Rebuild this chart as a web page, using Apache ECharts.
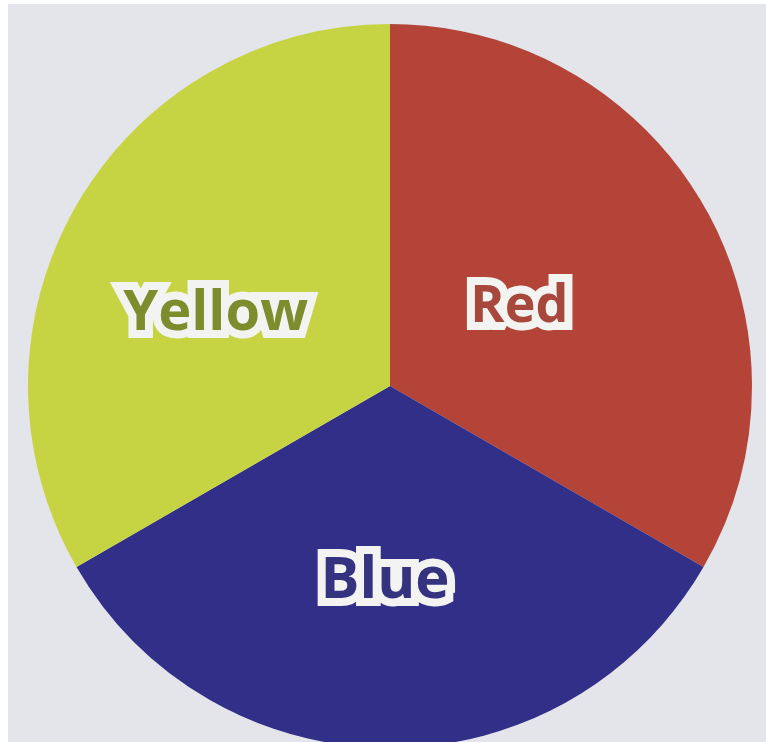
<!DOCTYPE html>
<html>
<head>
<meta charset="utf-8">
<script src="https://cdn.jsdelivr.net/npm/echarts@6/dist/echarts.min.js"></script>
<style>
html,body{margin:0;padding:0;background:#ffffff;width:766px;height:742px;overflow:hidden;}
#chart{position:absolute;left:8px;top:4px;width:758px;height:738px;background:#e3e5ea;}
</style>
</head>
<body>
<div id="chart"></div>
<script>
var categories = ['Red', 'Blue', 'Yellow'];
var values = [1, 1, 1];
var sliceColors = ['#b34437', '#322f88', '#c6d443'];
var textColors = ['#a8483d', '#35327f', '#7d8c2c'];
var fontSizes = [52, 58, 56];
var labelOffsets = [[-30, 13], [-5, 11], [-15, 20]];

var chart = echarts.init(document.getElementById('chart'));
var data = categories.map(function (c, i) {
  return {
    name: c,
    value: values[i],
    itemStyle: { color: sliceColors[i] },
    label: {
      color: textColors[i],
      fontSize: fontSizes[i],
      offset: labelOffsets[i]
    }
  };
});
chart.setOption({
  animation: false,
  series: [{
    type: 'pie',
    center: [382, 382],
    radius: [0, 362],
    startAngle: 90,
    clockwise: true,
    avoidLabelOverlap: false,
    silent: true,
    itemStyle: { borderWidth: 0 },
    label: {
      show: true,
      position: 'inside',
      formatter: '{b}',
      fontFamily: '"Open Sans", sans-serif',
      fontWeight: 'bold',
      textBorderColor: '#f3f3f1',
      textBorderWidth: 16
    },
    labelLine: { show: false },
    data: data
  }]
});
</script>
</body>
</html>
